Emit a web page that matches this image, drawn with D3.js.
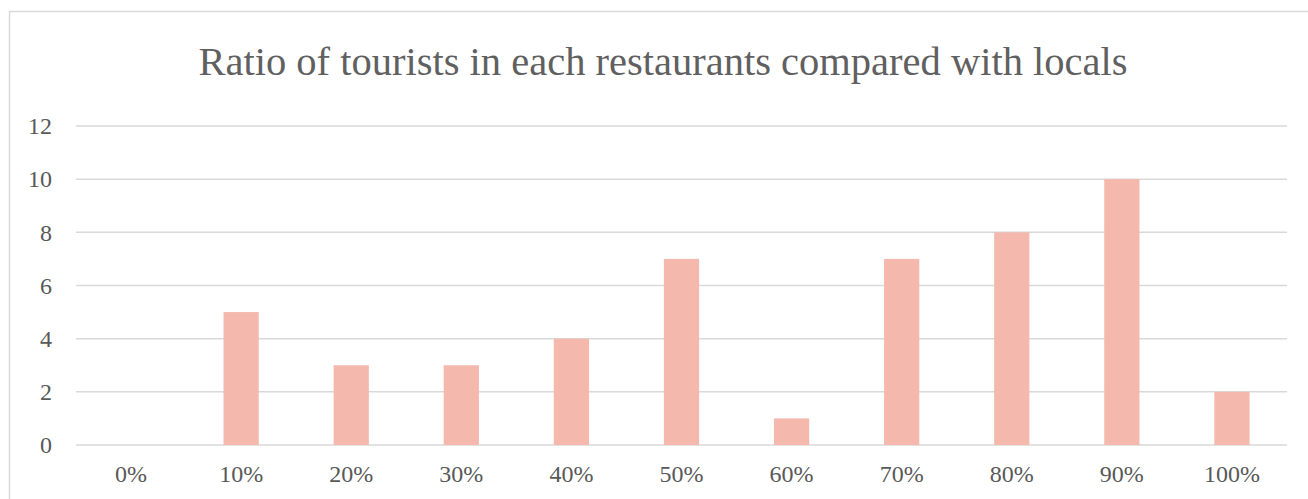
<!DOCTYPE html>
<html>
<head>
<meta charset="utf-8">
<script src="https://cdn.jsdelivr.net/npm/d3@7"></script>
<style>
  html, body { margin: 0; padding: 0; background: #fff; }
  svg { display: block; }
</style>
</head>
<body>
<div id="chart"></div>
<script>
// data
let categories = ["0%", "10%", "20%", "30%", "40%", "50%", "60%", "70%", "80%", "90%", "100%"];
let counts = [0, 5, 3, 3, 4, 7, 1, 7, 8, 10, 2];
let yTicks = [0, 2, 4, 6, 8, 10, 12];
let chartTitle = "Ratio of tourists in each restaurants compared with locals";

let width = 1308, height = 499;
let fontFamily = "'Liberation Serif', 'DejaVu Serif', serif";
let textColor = "#595959";

let svg = d3.select("#chart").append("svg")
    .attr("width", width)
    .attr("height", height);

// chart area frame
svg.append("rect")
    .attr("x", 9.5)
    .attr("y", 11.5)
    .attr("width", 1320)
    .attr("height", 520)
    .style("fill", "#fff")
    .style("stroke", "#d9d9d9")
    .style("stroke-width", 1.5);

let plotLeft = 76, plotRight = 1287, plotTop = 126, plotBottom = 445;

let xScale = d3.scaleBand()
    .domain(categories)
    .range([plotLeft, plotRight])
    .paddingInner(0.68)
    .paddingOuter(0.34);

let yScale = d3.scaleLinear()
    .domain([0, 12])
    .range([plotBottom, plotTop]);

svg.append("text")
    .attr("x", 663)
    .attr("y", 75)
    .attr("text-anchor", "middle")
    .style("font-family", fontFamily)
    .style("font-size", "40.5px")
    .style("fill", "#606060")
    .text(chartTitle);

// gridlines
svg.selectAll(".grid")
    .data(yTicks)
    .enter().append("line")
    .attr("class", "grid")
    .attr("x1", plotLeft)
    .attr("x2", plotRight)
    .attr("y1", d => yScale(d))
    .attr("y2", d => yScale(d))
    .style("stroke", "#d9d9d9")
    .style("stroke-width", 1.5);

// y axis labels
let yAxis = d3.axisLeft(yScale).tickValues(yTicks).tickSize(0).tickPadding(24);
let yG = svg.append("g")
    .attr("transform", `translate(${plotLeft},0)`)
    .call(yAxis);
yG.select(".domain").remove();
yG.selectAll("text")
    .style("font-family", fontFamily)
    .style("font-size", "24px")
    .style("fill", textColor);

// bars
svg.selectAll(".bar")
    .data(counts)
    .enter().append("rect")
    .attr("class", "bar")
    .attr("x", (d, i) => xScale(categories[i]))
    .attr("width", xScale.bandwidth())
    .attr("y", d => yScale(d))
    .attr("height", d => yScale(0) - yScale(d))
    .style("fill", "#f4b8ad");

// x axis labels
let xAxis = d3.axisBottom(xScale).tickSize(0).tickPadding(20);
let xG = svg.append("g")
    .attr("transform", `translate(0,${plotBottom})`)
    .call(xAxis);
xG.select(".domain").remove();
xG.selectAll("text")
    .style("font-family", fontFamily)
    .style("font-size", "24px")
    .style("fill", textColor);
</script>
</body>
</html>
